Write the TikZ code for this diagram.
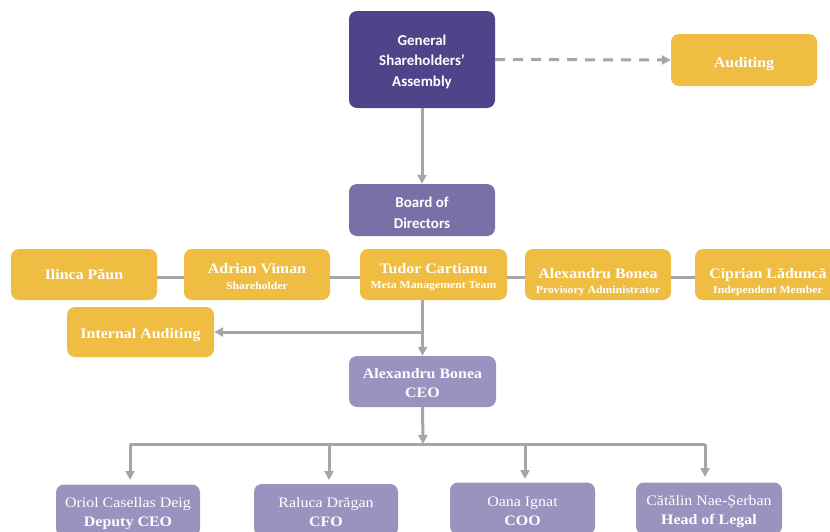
\documentclass[tikz,border=0pt]{standalone}
\usepackage{fontspec}
\setmainfont{Liberation Serif}[FakeStretch=1.1]
\newfontfamily\calib{Carlito}
\usetikzlibrary{arrows.meta}
\definecolor{gsacol}{HTML}{4F4489}
\definecolor{boardcol}{HTML}{7B6FA8}
\definecolor{lilac}{HTML}{9A92BF}
\definecolor{gold}{HTML}{EFBD42}
\definecolor{linegray}{HTML}{A6A6A6}
\tikzset{
  box/.style={rounded corners=8pt, inner sep=0pt, text=white, align=center, minimum width=146pt},
  goldbox/.style={box, fill=gold, minimum height=51pt, font=\fontsize{14.5}{15.5}\selectfont\bfseries},
  sansbox/.style={box, minimum height=52pt, font=\calib\fontsize{15}{20.5}\selectfont\bfseries},
  lilacbox/.style={box, fill=lilac, minimum height=52pt, font=\fontsize{14.5}{19}\selectfont},
  conn/.style={draw=linegray, line width=3pt},
  arr/.style={conn, -{Triangle[length=9pt,width=9pt]}}
}
\newcommand{\subt}[1]{{\fontsize{10.7}{12}\selectfont #1}}
\newcommand{\dn}[1]{\rule{0pt}{#1}}
\begin{document}
\begin{tikzpicture}[x=1pt,y=-1pt]
\useasboundingbox (0,0) rectangle (830,531);
% top
\node[sansbox, fill=gsacol, minimum height=97pt] (gsa) at (422,59.5) {\dn{14.5pt}General\\Shareholders’\\Assembly};
\node[goldbox, minimum height=52pt] (aud) at (744,60) {\dn{18pt}Auditing};
\node[sansbox, fill=boardcol] (board) at (422,210) {\dn{16.5pt}Board of\\Directors};
% yellow row
\node[goldbox] (ilinca) at (84,274.5) {Ilinca Păun};
\node[goldbox] (adrian) at (257,274.5) {\dn{14pt}Adrian Viman\\\subt{Shareholder}};
\node[goldbox, minimum width=147pt] (tudor) at (433.5,274.5) {\dn{15pt}Tudor Cartianu\\\subt{Meta Management Team}};
\node[goldbox] (alex) at (598,274.5) {\dn{25pt}Alexandru Bonea\\\subt{Provisory Administrator}};
\node[goldbox] (ciprian) at (768,274.5) {\dn{25pt}Ciprian Lăduncă\\\subt{Independent Member}};
\node[goldbox, minimum width=147pt, minimum height=50pt] (ia) at (140.5,332) {\dn{16pt}Internal Auditing};
% CEO
\node[lilacbox, minimum width=147pt, minimum height=51pt, font=\fontsize{14.5}{19}\selectfont\bfseries] (ceo) at (422.5,381.5) {\dn{14pt}Alexandru Bonea\\CEO};
% bottom
\node[lilacbox, minimum width=144pt] (oriol) at (128,510.5) {\dn{17pt}Oriol Casellas Deig\\\textbf{Deputy CEO}};
\node[lilacbox, minimum width=144pt] (raluca) at (326,510) {\dn{15pt}Raluca Drăgan\\\textbf{CFO}};
\node[lilacbox, minimum width=145pt] (oana) at (522.5,508.5) {\dn{15pt}Oana Ignat\\\textbf{COO}};
\node[lilacbox] (catalin) at (709,508.5) {\dn{16pt}Cătălin Nae-Șerban\\\textbf{Head of Legal}};
% connectors
\draw[arr, dash pattern=on 10pt off 8pt] (gsa.east) -- (aud.west);
\draw[arr] (gsa.south) -- (board.north);
\draw[conn] (ilinca.east |- 0,277) -- (adrian.west |- 0,277);
\draw[conn] (adrian.east |- 0,277) -- (tudor.west |- 0,277);
\draw[conn] (tudor.east |- 0,277) -- (alex.west |- 0,277);
\draw[conn] (alex.east |- 0,277) -- (ciprian.west |- 0,277);
\draw[arr] (ceo.north |- tudor.south) -- (ceo.north);
\draw[arr] (ceo.north |- ia.east) -- (ia.east);
\coordinate (bar) at (423,444);
\draw[arr] (ceo.south) -- (bar);
\draw[conn] (130,444) -- (705,444);
\draw[arr] (130,444) -- (130,480);
\draw[arr] (329,444) -- (329,480);
\draw[arr] (525,444) -- (525,479);
\draw[arr] (705,444) -- (705,477);
\end{tikzpicture}
\end{document}
